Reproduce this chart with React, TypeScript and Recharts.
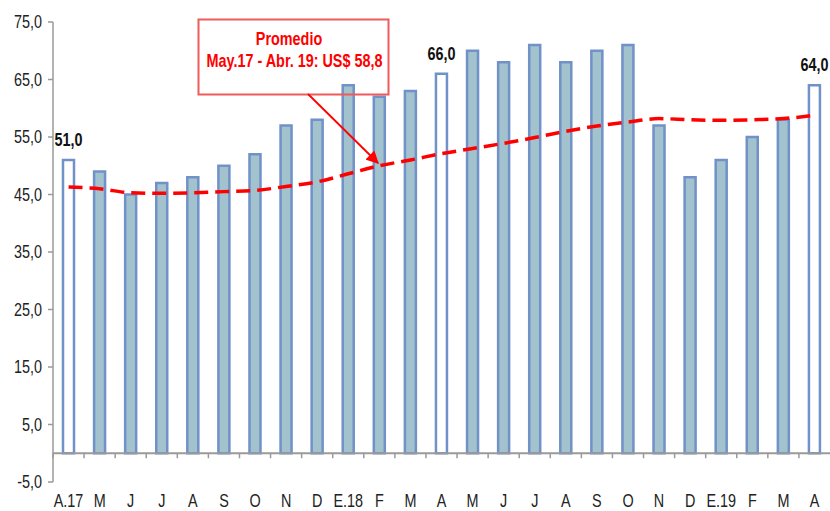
import React from 'react';
import { ComposedChart, Bar, Line, XAxis, YAxis, ReferenceLine, Cell, LabelList } from 'recharts';

// ---- data ----
const CATEGORIES = ['A.17', 'M', 'J', 'J', 'A', 'S', 'O', 'N', 'D', 'E.18', 'F', 'M', 'A', 'M', 'J', 'J', 'A', 'S', 'O', 'N', 'D', 'E.19', 'F', 'M', 'A'];
const PRICES = [51, 49, 45, 47, 48, 50, 52, 57, 58, 64, 62, 63, 66, 70, 68, 71, 68, 70, 71, 57, 48, 51, 55, 58, 64];
const AVERAGE = [46.3, 46.0, 45.3, 45.2, 45.3, 45.5, 45.7, 46.4, 47.2, 48.6, 50.0, 51.0, 52.1, 53.0, 53.9, 54.9, 56.0, 56.9, 57.6, 58.2, 58.0, 57.9, 58.0, 58.2, 58.8];
const OPEN_INDICES = [0, 12, 24];
const Y_TICKS = [-5, 5, 15, 25, 35, 45, 55, 65, 75];
const Y_MIN = -5;
const Y_MAX = 75;
const NOTE_TITLE = 'Promedio';
const NOTE_TEXT = 'May.17 - Abr. 19: US$ 58,8';

// ---- layout / style ----
const W = 830;
const H = 511;
const TOP = 22;
const Y_AXIS_W = 53;
const X_AXIS_H = 29;
const FONT = '"Liberation Sans", Arial, sans-serif';
const NARROW = 0.8;
const FS = 18;
const BAR_FILL = '#a2c2cd';
const BAR_STROKE = '#7191c9';
const AXIS = '#9a9a9a';
const RED = '#ff0000';

const fmt = (v: number) => v.toFixed(1).replace('.', ',');

const data = CATEGORIES.map((cat, i) => ({
  cat,
  price: PRICES[i],
  avg: AVERAGE[i],
  label: OPEN_INDICES.includes(i) ? fmt(PRICES[i]) : '',
}));

const PLOT_BOTTOM = H - X_AXIS_H;
const PLOT_H = PLOT_BOTTOM - TOP;
const ZERO_Y = PLOT_BOTTOM - ((0 - Y_MIN) / (Y_MAX - Y_MIN)) * PLOT_H;
const BAND = (W - Y_AXIS_W) / CATEGORIES.length;

const NarrowText = ({ x, y, anchor, children, bold, fill, dy, size }: any) => (
  <text
    transform={`translate(${x},${y}) scale(${NARROW},1)`}
    x={0}
    y={0}
    dy={dy}
    textAnchor={anchor}
    fontFamily={FONT}
    fontSize={size || FS}
    fontWeight={bold ? 'bold' : 'normal'}
    fill={fill}
  >
    {children}
  </text>
);

const XTick = (props: any) => {
  const { x, y, payload } = props;
  const half = payload && payload.offset ? payload.offset : BAND / 2;
  return (
    <g>
      <line x1={x - half} x2={x - half} y1={ZERO_Y} y2={ZERO_Y + 5} stroke={AXIS} strokeWidth={1.5} />
      <NarrowText x={x} y={y} dy="0.71em" anchor="middle" fill="#222">
        {payload.value}
      </NarrowText>
    </g>
  );
};

const YTick = (props: any) => {
  const { x, y, payload } = props;
  return (
    <NarrowText x={x} y={y} dy="0.355em" anchor="end" fill="#222">
      {fmt(payload.value)}
    </NarrowText>
  );
};

const ValueLabel = (props: any) => {
  const { x, y, width, value } = props;
  if (!value) return null;
  return (
    <NarrowText x={x + width / 2} y={y - 14} anchor="middle" bold fill="#111">
      {value}
    </NarrowText>
  );
};

export default function App() {
  return (
    <div style={{ position: 'fixed', left: 0, top: 0, width: W, height: H, background: '#fff', overflow: 'hidden' }}>
      <ComposedChart width={W} height={H} data={data} margin={{ top: TOP, right: 0, bottom: 0, left: 0 }} barCategoryGap={0}>
        <XAxis
          dataKey="cat"
          height={X_AXIS_H}
          axisLine={false}
          tickLine={false}
          tickSize={0}
          tickMargin={12}
          interval={0}
          tick={<XTick />}
        />
        <YAxis
          width={Y_AXIS_W}
          domain={[Y_MIN, Y_MAX]}
          ticks={Y_TICKS}
          interval={0}
          allowDataOverflow
          axisLine={{ stroke: AXIS, strokeWidth: 1.5 }}
          tickLine={{ stroke: AXIS, strokeWidth: 1.5 }}
          tickSize={5}
          tickMargin={6}
          tick={<YTick />}
        />
        <ReferenceLine y={0} stroke={AXIS} strokeWidth={2} />
        <Bar dataKey="price" barSize={11} stroke={BAR_STROKE} strokeWidth={2.5} isAnimationActive={false}>
          {data.map((d, i) => (
            <Cell key={i} fill={OPEN_INDICES.includes(i) ? '#ffffff' : BAR_FILL} />
          ))}
          <LabelList dataKey="label" content={<ValueLabel />} />
        </Bar>
        <Line
          type="monotone"
          dataKey="avg"
          stroke={RED}
          strokeWidth={3.5}
          strokeDasharray="14 7"
          dot={false}
          activeDot={false}
          isAnimationActive={false}
        />
      </ComposedChart>
      <svg width={W} height={H} style={{ position: 'absolute', left: 0, top: 0, pointerEvents: 'none' }}>
        <defs>
          <marker id="arr" viewBox="0 0 10 10" refX="9" refY="5" markerWidth="7" markerHeight="7" orient="auto-start-reverse">
            <path d="M0,0 L10,5 L0,10 z" fill={RED} />
          </marker>
        </defs>
        <rect x={198.5} y={19.5} width={190} height={75} fill="none" stroke="#f05a5a" strokeWidth={2} />
        <NarrowText x={289} y={45} anchor="middle" bold fill={RED}>
          {NOTE_TITLE}
        </NarrowText>
        <NarrowText x={294.5} y={67} anchor="middle" bold fill={RED}>
          {NOTE_TEXT}
        </NarrowText>
        <line x1={308} y1={94} x2={378} y2={163} stroke={RED} strokeWidth={1.8} markerEnd="url(#arr)" />
      </svg>
    </div>
  );
}
